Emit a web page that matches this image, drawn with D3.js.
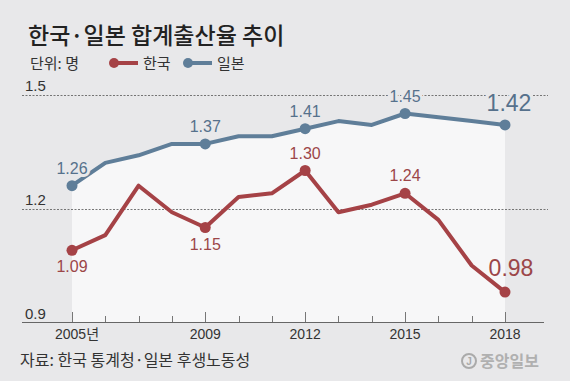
<!DOCTYPE html>
<html>
<head>
<meta charset="utf-8">
<script src="https://cdn.jsdelivr.net/npm/d3@7"></script>
<style>
  html, body { margin: 0; padding: 0; background: #e8e8ea; }
  svg { display: block; }
  text { font-family: "Liberation Sans", "Noto Sans CJK KR", sans-serif; }
  .kr { font-family: "Noto Sans CJK KR", sans-serif; }
</style>
</head>
<body>
<svg id="chart" width="570" height="381"></svg>
<script>
// data
var years = [2005, 2006, 2007, 2008, 2009, 2010, 2011, 2012, 2013, 2014, 2015, 2016, 2017, 2018];
var korea = [1.09, 1.13, 1.26, 1.19, 1.15, 1.23, 1.24, 1.30, 1.19, 1.21, 1.24, 1.17, 1.05, 0.98];
var japan = [1.26, 1.32, 1.34, 1.37, 1.37, 1.39, 1.39, 1.41, 1.43, 1.42, 1.45, 1.44, 1.43, 1.42];
var labelYears = [2005, 2009, 2012, 2015, 2018];
var yTicks = [0.9, 1.2, 1.5];
var xTickLabels = ["2005년", "2009", "2012", "2015", "2018"];
// where the Korean label sits: below or above the dot
var koreaLabelPos = ["below", "below", "above", "above", "above"];

var bg = '#e8e8ea',
	plotBg = '#f7f7f8',
	red = '#a54246',
	blue = '#5f7e99',
	redText = '#9c4648',
	blueText = '#56718c';

var svg = d3.select('#chart');

var x = d3.scaleLinear().domain([2005, 2018]).range([72, 505]);
var y = d3.scaleLinear().domain([0.9, 1.5]).range([322.5, 94.5]);

var jp = years.map((yr, i) => ({ year: yr, v: japan[i] }));
var ko = years.map((yr, i) => ({ year: yr, v: korea[i] }));

// white area under the Japan line
svg.append('path')
	.datum(jp)
	.attr('fill', plotBg)
	.attr('d', d3.area().x(d => x(d.year)).y0(y(0.9)).y1(d => y(d.v)));

// dashed grid lines
svg.selectAll('.grid')
	.data(yTicks.filter(t => t > 0.9))
	.enter().append('line')
	.attr('x1', 22).attr('x2', 548)
	.attr('y1', d => Math.round(y(d)) + 0.5).attr('y2', d => Math.round(y(d)) + 0.5)
	.attr('stroke', '#555')
	.attr('stroke-width', 0.8)
	.attr('stroke-dasharray', '2,1.5');

// y labels
svg.selectAll('.ylab')
	.data(yTicks)
	.enter().append('text')
	.attr('x', 25)
	.attr('y', d => y(d) - 4)
	.attr('font-size', 15)
	.attr('fill', '#333')
	.text(d => d.toFixed(1));

// x axis line + ticks
svg.append('line')
	.attr('x1', 22).attr('x2', 544)
	.attr('y1', 322.5).attr('y2', 322.5)
	.attr('stroke', '#666').attr('stroke-width', 1);

svg.selectAll('.tick')
	.data(years)
	.enter().append('line')
	.attr('x1', d => Math.round(x(d)) + 0.5).attr('x2', d => Math.round(x(d)) + 0.5)
	.attr('y1', 322)
	.attr('y2', d => labelYears.includes(d) ? 312 : 316)
	.attr('stroke', '#777').attr('stroke-width', 1);

svg.selectAll('.xlab')
	.data(labelYears)
	.enter().append('text')
	.attr('x', d => x(d) + (d === 2005 ? 5 : 0))
	.attr('y', 339)
	.attr('text-anchor', 'middle')
	.attr('font-size', 14)
	.attr('fill', '#333')
	.text((d, i) => xTickLabels[i]);

var line = d3.line().x(d => x(d.year)).y(d => y(d.v));

// Japan line
svg.append('path').datum(jp)
	.attr('fill', 'none').attr('stroke', blue)
	.attr('stroke-width', 4).attr('stroke-linejoin', 'round')
	.attr('d', line);

// Korea line
svg.append('path').datum(ko)
	.attr('fill', 'none').attr('stroke', red)
	.attr('stroke-width', 4).attr('stroke-linejoin', 'round')
	.attr('d', line);

var jpDots = jp.filter(d => labelYears.includes(d.year));
var koDots = ko.filter(d => labelYears.includes(d.year));

svg.selectAll('.jpdot').data(jpDots).enter().append('circle')
	.attr('cx', d => x(d.year)).attr('cy', d => y(d.v)).attr('r', 5.5)
	.attr('fill', blue);
svg.selectAll('.kodot').data(koDots).enter().append('circle')
	.attr('cx', d => x(d.year)).attr('cy', d => y(d.v)).attr('r', 5.5)
	.attr('fill', red);

// value labels
svg.selectAll('.jplab').data(jpDots).enter().append('text')
	.attr('x', d => x(d.year) + (d.year === 2018 ? 4 : 0))
	.attr('y', d => y(d.v) - (d.year === 2018 ? 14 : 12))
	.attr('text-anchor', 'middle')
	.attr('font-size', d => d.year === 2018 ? 23 : 16)
	.attr('fill', blueText)
	.attr('stroke', bg).attr('stroke-width', 6)
	.attr('paint-order', 'stroke')
	.text(d => d.v.toFixed(2));

svg.selectAll('.kolab').data(koDots).enter().append('text')
	.attr('x', d => x(d.year) + (d.year === 2018 ? 6 : 0))
	.attr('y', (d, i) => koreaLabelPos[i] === 'below' ? y(d.v) + 22 : y(d.v) - (d.year === 2018 ? 16 : 12))
	.attr('text-anchor', 'middle')
	.attr('font-size', d => d.year === 2018 ? 23 : 16)
	.attr('fill', redText)
	.text(d => d.v.toFixed(2));

// title
svg.append('text')
	.attr('class', 'kr')
	.attr('x', 28).attr('y', 44)
	.attr('font-size', 23)
	.attr('font-weight', 500)
	.attr('fill', '#222')
	.text('한국·일본 합계출산율 추이');

// legend
svg.append('text').attr('class', 'kr')
	.attr('x', 30).attr('y', 69)
	.attr('font-size', 15).attr('fill', '#333')
	.text('단위: 명');

var legend = [{ name: '한국', color: red, x: 114 }, { name: '일본', color: blue, x: 188 }];
legend.forEach(function(l) {
	svg.append('line')
		.attr('x1', l.x).attr('x2', l.x + 24)
		.attr('y1', 63).attr('y2', 63)
		.attr('stroke', l.color).attr('stroke-width', 4);
	svg.append('circle')
		.attr('cx', l.x).attr('cy', 63).attr('r', 5)
		.attr('fill', l.color);
	svg.append('text').attr('class', 'kr')
		.attr('x', l.x + 29).attr('y', 69)
		.attr('font-size', 15).attr('fill', '#333')
		.text(l.name);
});

// source
svg.append('text').attr('class', 'kr')
	.attr('x', 20).attr('y', 366)
	.attr('font-size', 16).attr('fill', '#333')
	.text('자료: 한국 통계청·일본 후생노동성');

// logo
svg.append('circle')
	.attr('cx', 469).attr('cy', 361).attr('r', 7)
	.attr('fill', 'none').attr('stroke', '#aaa').attr('stroke-width', 2);
svg.append('text')
	.attr('x', 469).attr('y', 365)
	.attr('text-anchor', 'middle')
	.attr('font-size', 10).attr('font-weight', 700).attr('fill', '#aaa')
	.text('J');
svg.append('text').attr('class', 'kr')
	.attr('x', 480).attr('y', 367)
	.attr('font-size', 16).attr('font-weight', 700)
	.attr('fill', '#b0b0b0')
	.text('중앙일보');
</script>
</body>
</html>
